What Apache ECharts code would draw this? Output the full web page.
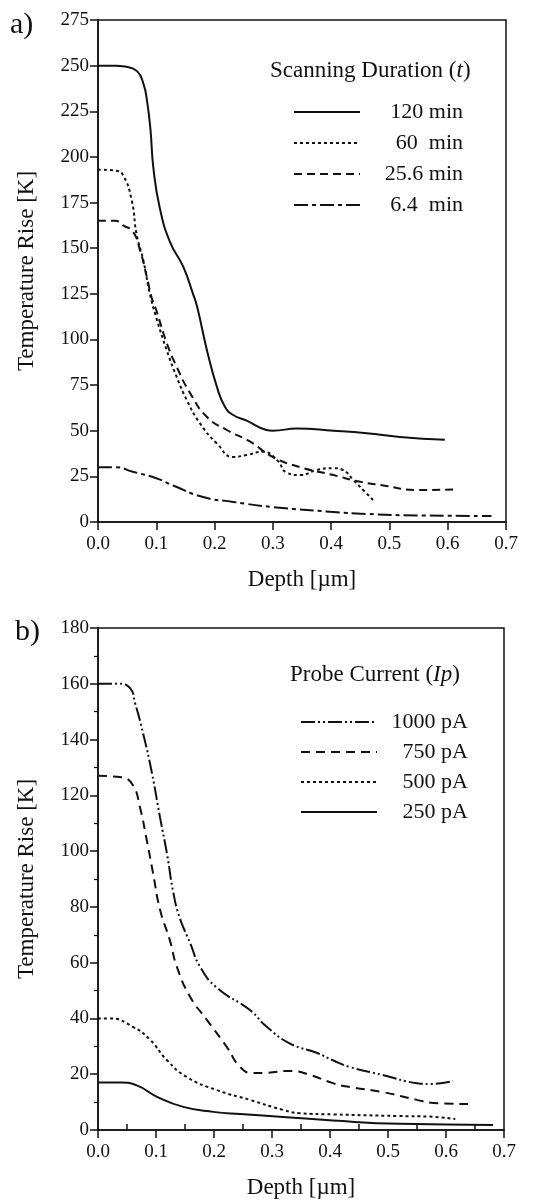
<!DOCTYPE html>
<html><head><meta charset="utf-8">
<script src="https://cdn.jsdelivr.net/npm/echarts@6/dist/echarts.min.js"></script>
<style>html,body{margin:0;padding:0;background:#fff}#c{width:545px;height:1202px}</style>
</head><body><div id="c"></div>
<script>
// ---- Panel a: Scanning Duration (t) ----
const namesA = ['120 min', '60  min', '25.6 min', '6.4  min'];
const a120 = [[0,250],[0.03,250],[0.046,249.5],[0.067,247],[0.078,240],[0.084,231],[0.090,215],[0.095,194],[0.106,172],[0.124,153],[0.146,140],[0.163,125],[0.17,118],[0.187,94],[0.204,74],[0.218,63],[0.232,58.6],[0.255,55.5],[0.289,50.4],[0.3,50],[0.341,51.2],[0.404,50],[0.461,48.6],[0.518,46.6],[0.595,45]];
const a60 = [[0,193],[0.03,192.5],[0.043,190],[0.058,176],[0.066,158],[0.078,143],[0.089,125],[0.1,112],[0.118,94],[0.135,79.5],[0.152,67],[0.175,54],[0.204,43],[0.232,35.6],[0.255,36.7],[0.283,38.5],[0.307,34],[0.324,27],[0.347,25.7],[0.375,28.5],[0.404,29.5],[0.42,28.5],[0.438,23],[0.455,17.5],[0.472,12]];
const a25 = [[0,165],[0.03,165],[0.043,162.5],[0.06,159],[0.072,149],[0.084,134],[0.092,123],[0.1,116],[0.118,98],[0.135,85],[0.158,70.6],[0.187,57.5],[0.221,50.4],[0.261,44],[0.3,35.6],[0.347,30],[0.404,25.7],[0.45,22],[0.49,20],[0.547,17.5],[0.615,17.8]];
const a6 = [[0,30],[0.03,30],[0.06,27.5],[0.1,24],[0.129,20],[0.18,13.7],[0.232,11],[0.3,8.2],[0.404,5.5],[0.461,4.4],[0.547,3.6],[0.675,3.3]];
const ticksAY = {min: 0, max: 275, interval: 25};

// ---- Panel b: Probe Current (Ip) ----
const namesB = ['1000 pA', '750 pA', '500 pA', '250 pA'];
const b1000 = [[0,160],[0.035,160],[0.055,158.5],[0.064,153],[0.078,142],[0.093,128],[0.107,112],[0.119,99],[0.13,85],[0.141,76],[0.159,67],[0.176,58.5],[0.205,51],[0.262,43],[0.291,37],[0.331,31],[0.378,27.6],[0.405,25],[0.434,22.6],[0.491,19.7],[0.55,16.8],[0.572,16.5],[0.612,17.5]];
const b750 = [[0,127],[0.04,126.5],[0.06,123.7],[0.072,116],[0.084,104],[0.095,92],[0.107,79],[0.124,68],[0.136,58.5],[0.159,47.7],[0.188,39.4],[0.222,29.8],[0.245,22.6],[0.267,20.4],[0.291,20.5],[0.331,21.2],[0.366,19.7],[0.405,16.8],[0.434,15.4],[0.491,13.6],[0.55,10.8],[0.578,9.7],[0.638,9.3]];
const b500 = [[0,40],[0.02,40],[0.06,37],[0.09,32.3],[0.119,25],[0.153,19],[0.205,14.3],[0.262,10.8],[0.319,7.2],[0.348,6],[0.405,5.6],[0.52,5],[0.572,4.8],[0.616,3.9]];
const b250 = [[0,17],[0.04,17],[0.067,16],[0.101,12],[0.147,8.3],[0.199,6.5],[0.245,5.7],[0.319,4.7],[0.405,3.4],[0.52,2.2],[0.681,1.8]];
const ticksBY = {min: 0, max: 180, interval: 20};
const ticksX = {min: 0, max: 0.7, interval: 0.1};
const halfTicksX = [0.05, 0.15, 0.25, 0.35, 0.45, 0.55, 0.65];

const FONT = '"Liberation Serif", "DejaVu Serif", serif';
const INK = '#111';

function xAxisCfg(grid) {
  return {
    type: 'value', gridIndex: grid, min: ticksX.min, max: ticksX.max, interval: ticksX.interval,
    name: 'Depth [µm]', nameLocation: 'middle', nameGap: 46,
    nameTextStyle: {fontFamily: FONT, fontSize: 23, color: INK},
    axisLine: {lineStyle: {color: INK, width: 1.5}},
    axisTick: {show: true, length: 8, lineStyle: {color: INK, width: 1.5}},
    axisLabel: {fontFamily: FONT, fontSize: 19, color: INK, margin: 13, formatter: v => v.toFixed(1)},
    splitLine: {show: false}
  };
}
function yAxisCfg(grid, t, minor) {
  return {
    type: 'value', gridIndex: grid, min: t.min, max: t.max, interval: t.interval,
    name: 'Temperature Rise [K]', nameLocation: 'middle', nameGap: 60,
    nameTextStyle: {fontFamily: FONT, fontSize: 23, color: INK},
    axisLine: {show: true, lineStyle: {color: INK, width: 1.5}},
    axisTick: {show: true, length: 8, lineStyle: {color: INK, width: 1.5}},
    minorTick: {show: minor, splitNumber: 2, length: 4, lineStyle: {color: INK, width: 1.2}},
    axisLabel: {fontFamily: FONT, fontSize: 19, color: INK, margin: 9},
    splitLine: {show: false}
  };
}
function line(name, data, xi, yi, type, w) {
  return {
    name, type: 'line', data, xAxisIndex: xi, yAxisIndex: yi, symbol: 'none',
    smooth: 0.5, animation: false,
    lineStyle: {color: INK, width: w || 2, type},
    itemStyle: {color: INK}
  };
}
function legendCfg(names, left, top, iw, tw, gap) {
  return {
    data: names, orient: 'vertical', left, top, itemWidth: iw, itemHeight: 14, itemGap: gap,
    selectedMode: false,
    itemStyle: {opacity: 0},
    formatter: n => '{t|' + n + '}',
    textStyle: {rich: {t: {fontFamily: FONT, fontSize: 22, lineHeight: 22, color: INK, width: tw, align: 'right'}}}
  };
}

const chart = echarts.init(document.getElementById('c'), null, {renderer: 'canvas'});
chart.setOption({
  backgroundColor: '#fff',
  animation: false,
  grid: [
    {left: 98, right: 39, top: 20, height: 502, show: true, borderColor: INK, borderWidth: 1.5, backgroundColor: 'transparent'},
    {left: 98, right: 41, top: 628, height: 502, show: true, borderColor: INK, borderWidth: 1.5, backgroundColor: 'transparent'}
  ],
  xAxis: [
    xAxisCfg(0),
    xAxisCfg(1),
    {type: 'value', gridIndex: 1, min: ticksX.min, max: ticksX.max, interval: ticksX.interval, position: 'bottom',
     axisLine: {show: false}, axisLabel: {show: false}, splitLine: {show: false},
     axisTick: {show: true, inside: true, length: 6, customValues: halfTicksX, lineStyle: {color: INK, width: 1.5}}}
  ],
  yAxis: [yAxisCfg(0, ticksAY, false), yAxisCfg(1, ticksBY, true)],
  legend: [
    legendCfg(namesA, 288, 96, 66, 98, 9),
    legendCfg(namesB, 295, 706, 76, 86, 8)
  ],
  series: [
    line(namesA[0], a120, 0, 0, 'solid', 2),
    line(namesA[1], a60, 0, 0, [3, 3]),
    line(namesA[2], a25, 0, 0, [8, 5]),
    line(namesA[3], a6, 0, 0, [14, 4, 4, 4]),
    line(namesB[0], b1000, 1, 1, [14, 3, 2, 3, 2, 3]),
    line(namesB[1], b750, 1, 1, [9, 6]),
    line(namesB[2], b500, 1, 1, [3, 3]),
    line(namesB[3], b250, 1, 1, 'solid', 2)
  ],
  graphic: [
    {type: 'text', left: 10, top: 10, style: {text: 'a)', font: '30px ' + FONT, fill: INK}},
    {type: 'text', left: 15, top: 617, style: {text: 'b)', font: '30px ' + FONT, fill: INK}},
    {type: 'text', left: 270, top: 59, style: {
      text: '{n|Scanning Duration (}{i|t}{n|)}', fill: INK,
      rich: {n: {fontFamily: FONT, fontSize: 23, color: INK}, i: {fontFamily: FONT, fontSize: 23, fontStyle: 'italic', color: INK}}}},
    {type: 'text', left: 290, top: 663, style: {
      text: '{n|Probe Current (}{i|Ip}{n|)}', fill: INK,
      rich: {n: {fontFamily: FONT, fontSize: 23, color: INK}, i: {fontFamily: FONT, fontSize: 23, fontStyle: 'italic', color: INK}}}}
  ]
});
</script></body></html>
